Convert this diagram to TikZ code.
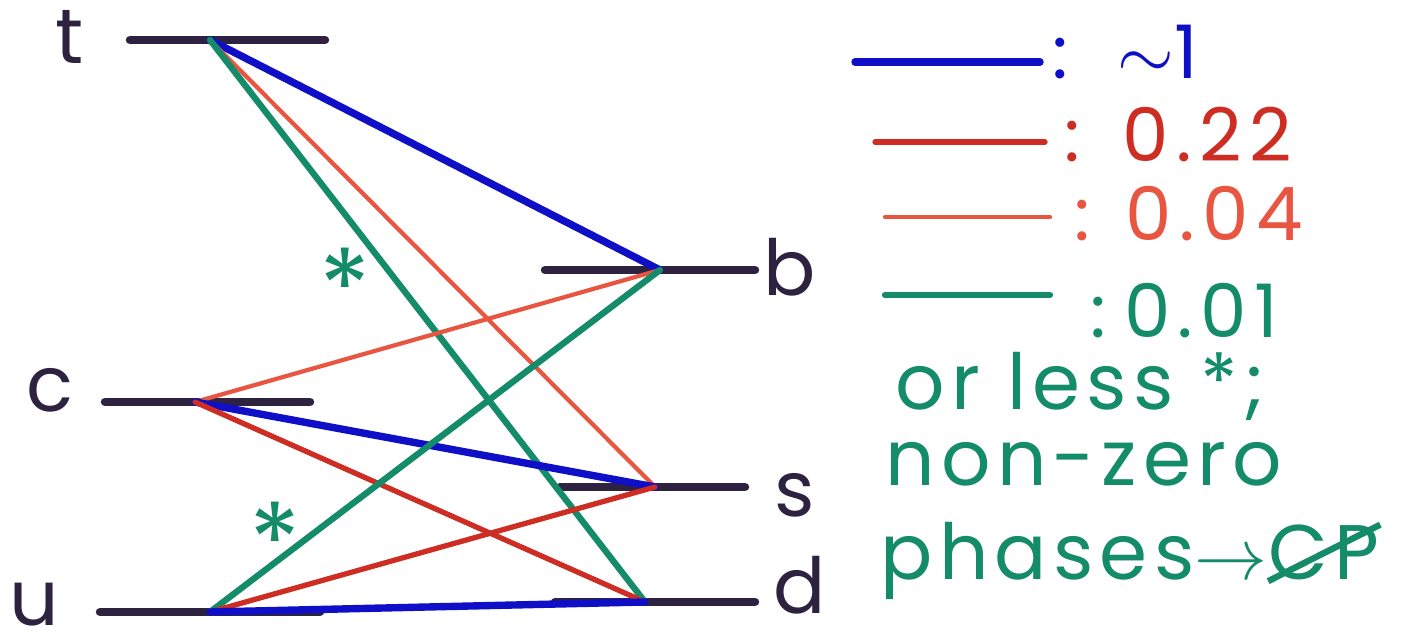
\documentclass[tikz,border=0pt]{standalone}
\usepackage{fontspec}
\setmainfont{Poppins}
\usepackage{tikz}
\usetikzlibrary{calc}

\definecolor{ink}{RGB}{45,35,65}
\definecolor{kblue}{RGB}{15,15,200}
\definecolor{kred}{RGB}{205,45,35}
\definecolor{klred}{RGB}{232,85,65}
\definecolor{kgreen}{RGB}{20,140,105}

\tikzset{
  level/.style={ink,line width=2.4pt,line cap=round},
  big/.style={kblue,line width=2.1pt,line cap=round},
  mid/.style={kred,line width=1.5pt,line cap=round},
  small/.style={klred,line width=1.2pt,line cap=round},
  tiny/.style={kgreen,line width=1.8pt,line cap=round},
  quark/.style={ink,font=\fontsize{22}{22}\selectfont,anchor=base,inner sep=0pt},
  note/.style={font=\fontsize{22}{22}\selectfont\addfontfeature{LetterSpace=8},anchor=base west,inner sep=0pt},
  num/.style={font=\fontsize{21}{21}\selectfont\addfontfeature{LetterSpace=10},anchor=base west,inner sep=0pt}
}

\begin{document}
\begin{tikzpicture}[x=0.01cm,y=0.01cm]
  \useasboundingbox (0,0) rectangle (1424,634);
  % up-type levels
  \draw[level] (130,594) -- (325,594);
  \draw[level] (105,232) -- (310,232);
  \draw[level] (100,22) -- (320,22);
  \coordinate (t) at (210,594);
  \coordinate (c) at (195,232);
  \coordinate (u) at (210,22);
  \node[quark] (tl) at (70,570) {t};
  \node[quark] (cl) at (50,222) {c};
  \node[quark] (ul) at (34,8) {u};
  % down-type levels
  \draw[level] (545,364) -- (755,364);
  \draw[level] (560,147) -- (745,147);
  \draw[level] (555,32) -- (755,32);
  \coordinate (b) at (660,364);
  \coordinate (s) at (655,147);
  \coordinate (d) at (645,32);
  \node[quark] (bl) at (790,338) {b};
  \node[quark] (sl) at (795,117) {s};
  \node[quark] (dl) at (800,20) {d};
  % mixings
  \draw[big] (t) -- (b);
  \draw[small] (t) -- (s);
  \draw[tiny] (t) -- (d);
  \draw[small] (c) -- (b);
  \draw[big] (c) -- (s);
  \draw[mid] (c) -- (d);
  \draw[tiny] (u) -- (b);
  \draw[mid] (u) -- (s);
  \draw[big] (u) -- (d);
  \node[kgreen,font=\fontsize{30}{30}\selectfont] (st1) at (345,347) {*};
  \node[kgreen,font=\fontsize{30}{30}\selectfont] (st2) at (275,93) {*};
  % legend
  \draw[big] (855,572) -- (1040,572);
  \draw[mid] (875,492) -- (1045,492);
  \draw[small] (885,417) -- (1050,417);
  \draw[tiny] (885,339) -- (1050,339);
  \node[num,kblue] (k1) at (1052,555) {:\hspace{14pt}$\sim$1};
  \node[num,kred] (k2) at (1064,472) {:\hspace{12pt}0.22};
  \node[num,klred] (k3) at (1074,393) {:\hspace{10pt}0.04};
  \node[num,kgreen] (k4) at (1090,296) {:\hspace{5pt}0.01};
  \node[note,kgreen] (k5) at (895,224) {or less *;};
  \node[note,kgreen] (k6) at (885,148) {non-zero};
  \node[note,kgreen] (k7) at (880,54) {phases$\rightarrow$};
  \node[note,kgreen] (cp) at (k7.base east) {CP};
  \draw[kgreen,line width=1.8pt] (cp.south west) -- (cp.north east);
\end{tikzpicture}
\end{document}
